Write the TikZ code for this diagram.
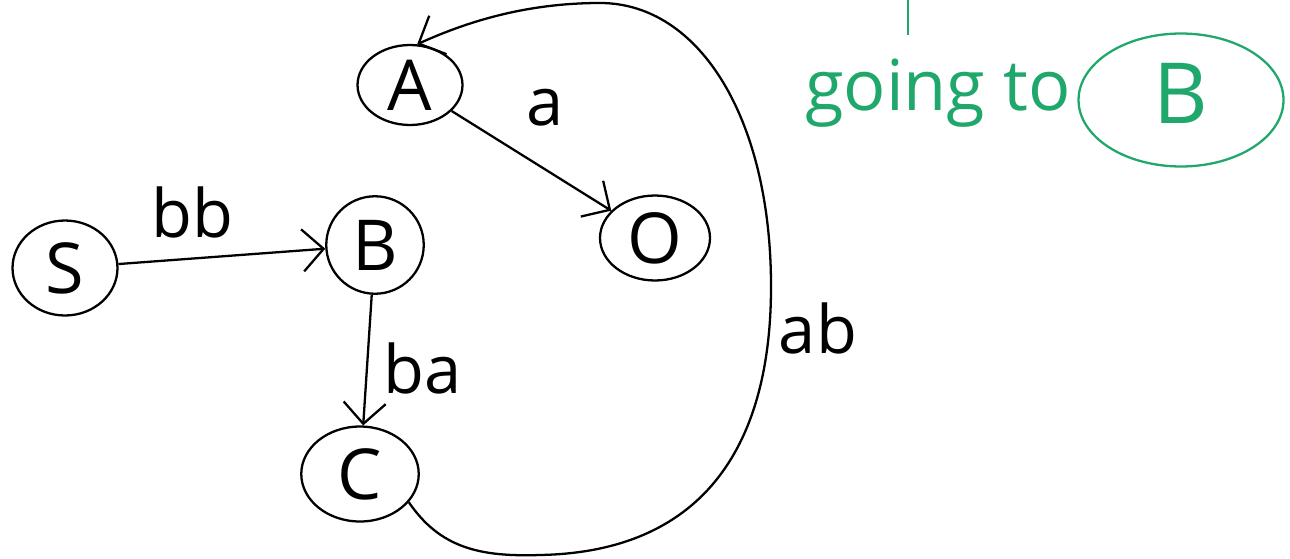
\documentclass[tikz,border=0pt]{standalone}
\usepackage{fontspec}
\setmainfont{Open Sans}
\usetikzlibrary{shapes.geometric,arrows.meta}
\definecolor{penGreen}{RGB}{32,168,108}

\begin{document}
\begin{tikzpicture}[x=0.02cm,y=-0.02cm,
  state/.style={draw,ellipse,line width=1.3pt,inner sep=0pt,font=\fontsize{40}{44}\selectfont},
  edge/.style={line width=1.3pt,-{Straight Barb[length=12pt,width=24pt,line width=1.3pt]}},
  lbl/.style={font=\fontsize{38}{42}\selectfont}]
\useasboundingbox (0,0) rectangle (1290,558);
\node [state,minimum width=2.1cm,minimum height=1.6cm] (A) at (410,85) {A};
\node [state,minimum width=2.2cm,minimum height=1.7cm] (O) at (655,238) {O};
\node [state,minimum width=2.1cm,minimum height=1.9cm] (S) at (65,268) {S};
\node [state,minimum width=1.95cm,minimum height=1.95cm] (B) at (375,245) {B};
\node [state,minimum width=2.35cm,minimum height=1.9cm] (C) at (360,474) {C};
\draw [edge] (A) -- (O);
\draw [edge] (S) -- (B);
\draw [edge] (B) -- (C);
\draw [edge] (C.-30) .. controls (440,548) and (480,557) .. (540,555)
  .. controls (700,552) and (770,450) .. (771,290)
  .. controls (772,120) and (700,3) .. (600,3)
  .. controls (520,3) and (460,25) .. (A.80);
\node [lbl] (la) at (545,108) {a};
\node [lbl] (lbb) at (192,212) {bb};
\node [lbl] (lba) at (423,368) {ba};
\node [lbl] (lab) at (818,328) {ab};
\begin{scope}[penGreen]
\coordinate (t1) at (908,0);
\coordinate (t2) at (908,35);
\draw [line width=1.3pt] (t1) -- (t2);
\node [lbl,anchor=base,font=\fontsize{40}{44}\selectfont] (gt) at (938,110) {going to};
\node [state,minimum width=4.1cm,minimum height=2.66cm,font=\fontsize{48}{52}\selectfont] (goal) at (1181,100) {\raisebox{8pt}{B}};
\end{scope}
\end{tikzpicture}
\end{document}
